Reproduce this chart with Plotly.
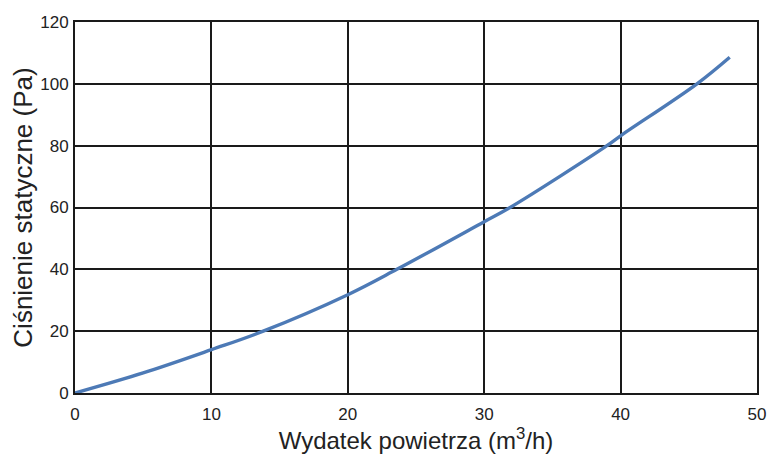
import plotly.graph_objects as go

flow = [0, 5, 10, 13.8, 20, 23.6, 30, 31.9, 39.0, 40, 45.6, 48]
pressure = [0, 6.5, 14.0, 20, 31.8, 40, 55.4, 60, 80, 83.2, 100, 108.6]

x_ticks = [0, 10, 20, 30, 40, 50]
y_ticks = [0, 20, 40, 60, 80, 100, 120]

fig = go.Figure()
fig.add_trace(go.Scatter(x=flow, y=pressure, mode="lines",
                         line=dict(color="#4d7ab6", width=3.4, shape="spline"),
                         showlegend=False, hoverinfo="skip"))

axis_common = dict(showgrid=True, gridcolor="#1a1a1a", gridwidth=2,
                   showline=True, linecolor="#1a1a1a", linewidth=2, mirror=True,
                   zeroline=False, ticks="", automargin=False,
                   tickfont=dict(size=17, color="#222"))

fig.update_layout(
    width=768, height=455,
    margin=dict(l=75, r=11, t=22, b=62),
    paper_bgcolor="white", plot_bgcolor="white",
    font=dict(family="Liberation Sans, Arial, sans-serif", color="#222"),
    xaxis=dict(range=[0, 50], tickvals=x_ticks, ticklabelstandoff=5,
               title=dict(text="Wydatek powietrza (m<sup>3</sup>/h)", font=dict(size=24), standoff=4),
               **axis_common),
    yaxis=dict(range=[0, 120], tickvals=y_ticks, ticklabelstandoff=1,
               title=dict(text="Ciśnienie statyczne (Pa)", font=dict(size=26), standoff=0),
               **axis_common),
)
fig.write_html("out.html",
               config={"displayModeBar": False},
               post_script="document.body.style.margin='0';document.body.style.overflow='hidden';")
